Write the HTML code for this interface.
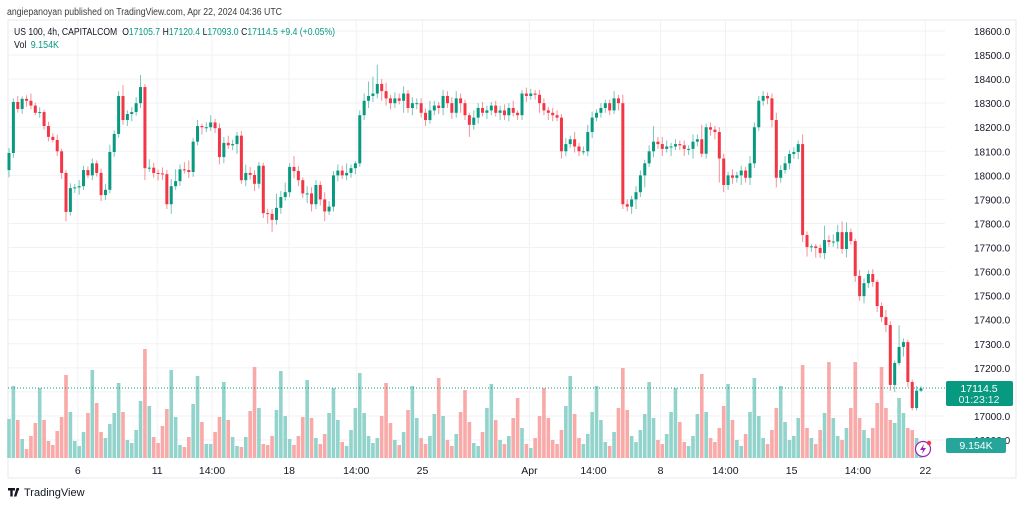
<!DOCTYPE html>
<html><head><meta charset="utf-8">
<style>
body{margin:0;background:#fff;width:1024px;height:505px;overflow:hidden;font-family:"Liberation Sans",sans-serif;}
svg text{font-family:"Liberation Sans",sans-serif;}
</style></head>
<body>
<svg id="chart" width="1024" height="505" viewBox="0 0 1024 505" xmlns="http://www.w3.org/2000/svg">
<text x="7" y="15" font-size="10" fill="#3c3c3c" textLength="275" lengthAdjust="spacingAndGlyphs">angiepanoyan published on TradingView.com, Apr 22, 2024 04:36 UTC</text>
<rect x="8" y="20" width="1008" height="458" fill="#fff" stroke="#e6e8ee"/>
<g id="grid"></g>
<g id="vol"></g>
<g id="candles"></g>
<line x1="8" y1="388" x2="945" y2="388" stroke="#089981" stroke-width="1" stroke-dasharray="1,2"/>
<g id="yaxis"></g>
<g id="xaxis"></g>
<rect x="946" y="381" width="67" height="25" rx="2" fill="#089981"/>
<text x="979" y="392" font-size="10.5" fill="#fff" text-anchor="middle">17114.5</text>
<text x="979" y="403" font-size="10.5" fill="#e6f5f2" text-anchor="middle">01:23:12</text>
<rect x="946" y="438" width="60" height="15" rx="2" fill="#26a69a"/>
<text x="976" y="449" font-size="10.5" fill="#fff" text-anchor="middle">9.154K</text>
<circle cx="923" cy="449" r="7.5" fill="#fff" stroke="#9c27b0" stroke-width="1.2"/>
<path d="M924 444 L920 450 L923 450 L922 454 L926 448 L923 448 Z" fill="#9c27b0"/>
<circle cx="929" cy="443" r="2.2" fill="#f23645"/>
<text x="14" y="35" font-size="10" fill="#131722" textLength="321" lengthAdjust="spacingAndGlyphs">US 100, 4h, CAPITALCOM <tspan dx="3">O</tspan><tspan fill="#089981">17105.7</tspan><tspan dx="3">H</tspan><tspan fill="#089981">17120.4</tspan><tspan dx="3">L</tspan><tspan fill="#089981">17093.0</tspan><tspan dx="3">C</tspan><tspan fill="#089981">17114.5</tspan><tspan dx="3" fill="#089981">+9.4 (+0.05%)</tspan></text>
<text x="14" y="48" font-size="10" fill="#131722" textLength="45" lengthAdjust="spacingAndGlyphs">Vol <tspan dx="2" fill="#089981">9.154K</tspan></text>
<g>
<path d="M8 488h7v2.5h-2.3v6h-2.4v-6H8z M16.5 488h2.6l-2.7 8.5h-2.5z" fill="#131722"/>
<circle cx="17.8" cy="489.3" r="1.3" fill="#131722"/>
<text x="24" y="496" font-size="11" fill="#131722">TradingView</text>
</g>
</svg>
<script>
const closes=[18093,18305,18276,18318,18310,18290,18260,18263,18205,18160,18147,18100,18010,17848,17947,17950,17955,18022,18000,18050,18010,17918,17940,18097,18172,18330,18230,18255,18263,18300,18367,18030,18032,18010,18008,18005,17880,17955,17976,18025,18022,18014,18140,18205,18200,18200,18220,18196,18076,18135,18125,18130,18165,17980,18010,18002,17965,18040,17843,17840,17815,17865,17910,17930,18035,18018,17980,17925,17925,17880,17960,17900,17850,17870,18000,18020,18000,18010,18030,18050,18250,18310,18330,18340,18380,18350,18320,18300,18320,18310,18340,18280,18300,18300,18260,18230,18270,18290,18280,18330,18300,18260,18320,18300,18250,18210,18240,18280,18260,18270,18290,18260,18270,18250,18280,18260,18250,18340,18330,18340,18335,18300,18270,18260,18250,18240,18100,18130,18150,18120,18100,18100,18180,18240,18260,18280,18300,18270,18320,18300,17880,17870,17900,17930,18000,18050,18100,18140,18130,18110,18120,18120,18130,18125,18110,18110,18140,18150,18090,18200,18190,18180,18070,17960,18000,17990,18000,18020,17990,18050,18200,18310,18330,18320,18230,17990,18022,18050,18089,18097,18130,17752,17702,17705,17698,17677,17731,17723,17725,17764,17694,17764,17727,17582,17498,17552,17590,17557,17457,17411,17378,17129,17220,17287,17307,17141,17033,17105,17114.5];
const firstOpen=18022;
const wickUp=[20,15,25,10,15,30,12,20,10,18,15,22,10,12,20,14,25,18,15,20,12,18,25,30,15,20,45,15,20,25,50,12,35,20,15,25,18,30,50,20,30,40,15,25,10,20,30,15,20,25,30,18,15,20,35,25,20,15,12,18,20,60,25,40,15,45,20,12,30,25,20,15,30,22,18,25,20,40,15,10,20,30,60,70,80,20,35,15,25,20,30,15,25,20,20,18,40,20,15,25,20,25,30,20,15,10,30,20,25,20,15,20,20,25,20,30,10,15,25,20,15,20,20,15,20,20,15,25,15,30,15,20,30,25,15,20,15,15,30,15,35,20,15,25,20,15,25,65,20,30,25,15,20,15,20,15,30,20,60,15,20,15,20,20,15,25,15,20,15,30,20,20,20,15,20,30,20,30,15,20,15,40,15,10,10,15,60,20,30,30,45,40,15,10,25,20,15,20,10,15,30,15,10,90,15,10,10,20,10];
const wickDn=[30,20,15,20,25,15,10,20,15,18,10,20,25,40,15,20,30,15,12,20,15,25,20,15,20,15,20,25,30,15,20,50,15,20,30,25,20,40,15,20,15,25,20,15,30,20,15,20,30,25,15,20,40,15,25,20,30,20,20,40,50,20,25,15,20,30,25,20,40,30,20,25,40,15,20,25,15,20,20,25,15,20,30,25,20,40,30,25,20,15,50,20,30,25,20,25,15,20,25,30,20,25,20,40,20,50,20,25,15,25,20,15,30,20,25,15,20,20,25,15,20,40,20,30,25,15,30,20,15,25,20,15,20,25,15,20,20,20,15,30,20,20,30,40,20,50,15,25,20,30,15,40,15,20,30,25,40,20,15,20,25,30,100,30,20,25,20,40,20,30,20,15,20,25,30,40,20,15,25,20,30,30,40,20,40,20,25,20,20,30,20,35,15,25,20,30,20,20,25,20,30,25,30,10,40,20,10,10,5];
const volumes=[39,72,38,19,9,22,35,70,38,17,13,27,41,83,46,17,12,26,45,88,55,26,20,34,45,75,46,18,15,28,57,109,52,21,15,32,49,88,41,13,11,21,54,82,36,14,14,26,41,76,38,21,12,11,21,47,91,50,14,13,22,48,87,42,19,13,22,41,
78,40,20,14,24,45,70,38,16,12,28,50,85,45,22,15,20,42,75,35,18,13,26,48,72,40,20,14,22,44,80,42,18,12,24,46,68,36,15,12,26,50,74,38,18,14,22,40,60,30,14,10,20,42,70,40,18,14,28,52,82,44,20,14,24,46,72,38,16,12,26,50,90,48,22,16,28,44,76,40,18,14,24,46,70,36,16,12,22,44,84,46,20,16,30,52,74,38,18,12,24,46,80,42,20,14,28,50,72,36,18,22,40,93,30,20,14,28,45,96,40,22,18,30,50,96,40,28,20,30,55,91,50,38,35,60,45,30,28,20,14];
const priceTicks=[18600,18500,18400,18300,18200,18100,18000,17900,17800,17700,17600,17500,17400,17300,17200,17100,17000,16900];
const timeLabels=["6","11","14:00","18","14:00","25","Apr","14:00","8","14:00","15","14:00","22"];
const timeIdx=[15.7,33.8,46.3,63.9,79.2,94.3,118.7,133.3,148.6,163.4,178.5,193.6,209];

const NS="http://www.w3.org/2000/svg";
const X0=9, STEP=912/(closes.length-1);
function xScale(i){return X0+i*STEP;}
function yScale(p){return 31+(18600-p)*0.2406;}
function vScale(v){return v*1.0;}
const VBASE=458;
function mk(tag,attrs,parent){const e=document.createElementNS(NS,tag);for(const k in attrs)e.setAttribute(k,attrs[k]);parent.appendChild(e);return e;}
const grid=document.getElementById('grid'),vol=document.getElementById('vol'),cg=document.getElementById('candles'),ya=document.getElementById('yaxis'),xa=document.getElementById('xaxis');

priceTicks.forEach(p=>{
  const y=yScale(p);
  const l=mk('line',{x1:8,x2:945,y1:y,y2:y,stroke:'#f0f2f5','stroke-width':1},grid);
  
  
  const t=mk('text',{x:974,y:y+4,'font-size':10,fill:'#131722'},ya);
  t.textContent=p.toFixed(1);
  
  
});
timeLabels.forEach((s,k)=>{
  const x=xScale(timeIdx[k]);
  const l=mk('line',{x1:x,x2:x,y1:20,y2:458,stroke:'#f0f2f5','stroke-width':1},grid);
  
  
  const t=mk('text',{x:x,y:474,'font-size':10.5,fill:'#131722','text-anchor':'middle'},xa);
  t.textContent=s;
  
  
});

closes.forEach((c,i)=>{
  const o=i===0?firstOpen:closes[i-1];
  const up=c>=o;
  const col=up?'#089981':'#f23645';
  const x=xScale(i);
  const hi=Math.max(o,c)+wickUp[i], lo=Math.min(o,c)-wickDn[i];
  const v=volumes[i];
  const vh=vScale(v);
  const vb=mk('rect',{x:x-1.8,y:VBASE-vh,width:3.6,height:vh,fill:up?'#92d3cb':'#f8a9a8'},vol);
  
  
  const w=mk('line',{x1:x,x2:x,y1:yScale(hi),y2:yScale(lo),stroke:col,'stroke-width':1,'stroke-opacity':0.55},cg);
  
  
  const yt=yScale(Math.max(o,c)), yb=yScale(Math.min(o,c));
  const b=mk('rect',{x:x-1.5,y:yt,width:3,height:Math.max(1,yb-yt),fill:col},cg);
  
  
});
</script>
</body></html>
